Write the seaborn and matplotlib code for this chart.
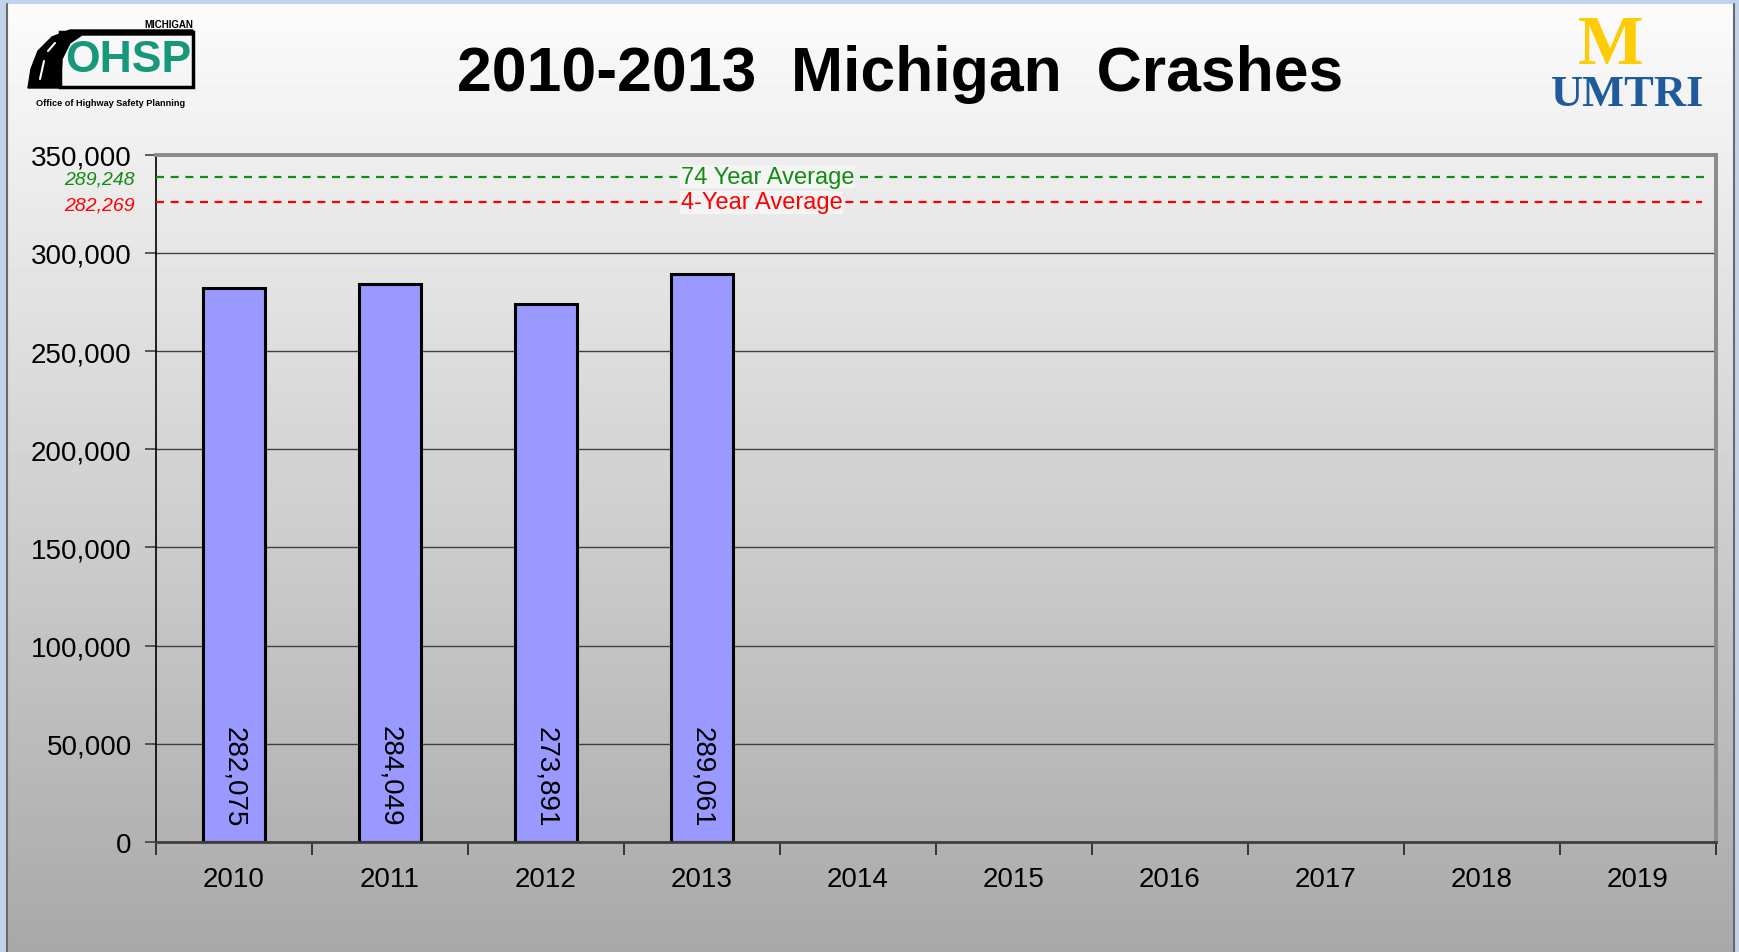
"""
plot.py - 2010-2013 Michigan Crashes bar chart
"""

import numpy as np
import matplotlib
matplotlib.use('Agg')
import matplotlib.pyplot as plt
import matplotlib.patches as mpatches
import seaborn as sns

# ============================================================
# DATA
# ============================================================

all_years = ['2010', '2011', '2012', '2013', '2014', '2015', '2016', '2017', '2018', '2019']
data_years = ['2010', '2011', '2012', '2013']
crashes = [282075, 284049, 273891, 289061]

avg_names = ['74 Year Average', '4-Year Average']
avg_values = [289248, 282269]

y_ticks = [0, 50000, 100000, 150000, 200000, 250000, 300000, 350000]

title = '2010-2013  Michigan  Crashes'

# ============================================================
# FIGURE + BACKGROUND
# ============================================================

sns.set_theme(style='white')
plt.rcParams['font.family'] = ['Liberation Sans', 'DejaVu Sans']
plt.rcParams['text.color'] = 'black'

W, H = 1739, 953
fig = plt.figure(figsize=(W / 100, H / 100), dpi=100)

bg = fig.add_axes([0, 0, 1, 1])
bg.axis('off')
bg.add_patch(mpatches.Rectangle((0, 0), W, H, color='#c2d2ec', zorder=0))
grad = np.linspace(0.985, 0.66, 256).reshape(-1, 1)
bg.imshow(grad, cmap='gray', vmin=0, vmax=1, aspect='auto',
          extent=(7, 1734, H, 5), zorder=1)
bg.plot([7, 7], [5, H], color='#6a6a6a', lw=1.5, zorder=2)
bg.plot([1734, 1734], [5, H], color='#6a6a6a', lw=1.5, zorder=2)
bg.set_xlim(0, W)
bg.set_ylim(H, 0)

# OHSP logo (rough)
road = mpatches.Polygon([(28, 89), (31, 70), (38, 52), (52, 38), (70, 31), (193, 31),
                         (193, 36), (82, 36), (70, 44), (62, 60), (60, 89)],
                        closed=True, color='black', zorder=3)
bg.add_patch(road)
bg.add_patch(mpatches.Rectangle((60, 33), 133, 55, fill=False, ec='black', lw=2.5, zorder=3))
bg.plot([40, 44], [80, 62], color='white', lw=1.5, zorder=4)
bg.plot([48, 55], [52, 44], color='white', lw=1.5, zorder=4)
bg.text(193, 25, 'MICHIGAN', fontsize=7, weight='bold', ha='right', va='center', zorder=4)
bg.text(128, 61, 'OHSP', fontsize=32, weight='bold', color='#17987a',
        ha='center', va='center', zorder=4)
bg.text(111, 103, 'Office of Highway Safety Planning', fontsize=6.6, weight='bold',
        ha='center', va='center', zorder=4)

# UMTRI logo
bg.text(1611, 47, 'M', fontsize=50, weight='bold', color='#ffcb05',
        family='Liberation Serif', ha='center', va='center', zorder=4)
bg.text(1628, 95, 'UMTRI', fontsize=32, weight='bold', color='#1f5a9a',
        family='Liberation Serif', ha='center', va='center', zorder=4)

# title
fig.text(900 / W, 1 - 75 / H, title, fontsize=45, weight='bold', color='black',
         ha='center', va='center')

# ============================================================
# BAR CHART
# ============================================================

left, right, top, bottom = 156, 1716, 155.7, 843
ax = fig.add_axes([left / W, 1 - bottom / H, (right - left) / W, (bottom - top) / H])
ax.set_facecolor('none')

sns.barplot(x=data_years, y=crashes, order=all_years, color='#9999ff',
            saturation=1, edgecolor='black', linewidth=2.2, width=0.4, ax=ax)

ax.set_xlim(-0.5, len(all_years) - 0.5)
ax.set_ylim(0, 350000)
ax.set_yticks(y_ticks)
ax.set_yticklabels([f'{v:,}' for v in y_ticks], fontsize=20, color='black')
ax.tick_params(axis='y', direction='out', length=8, width=1.2, color='#404040', pad=9.5, left=True)
ax.set_xticklabels(all_years, fontsize=20, color='black')
ax.set_xticks(np.arange(-0.5, len(all_years)), minor=True)
ax.tick_params(axis='x', which='major', length=0, pad=17)
ax.tick_params(axis='x', which='minor', direction='out', length=9, width=1.2,
               color='#202020', bottom=True)
ax.set_xlabel('')
ax.set_ylabel('')

ax.yaxis.grid(True, color='#404040', lw=1)
ax.set_axisbelow(True)
ax.spines['left'].set_color('black')
ax.spines['left'].set_linewidth(1.2)
ax.spines['bottom'].set_color('#404040')
ax.spines['bottom'].set_linewidth(2)
for s in ['top', 'right']:
    ax.spines[s].set_visible(True)
    ax.spines[s].set_color('#8a8a8a')
    ax.spines[s].set_linewidth(2.8)

# value labels, rotated, at bar bottom
for i, v in enumerate(crashes):
    ax.annotate(f'{v:,}', xy=(i, 0), xytext=(0, 11.5), textcoords='offset points',
                rotation=270, ha='center', va='bottom', fontsize=20, color='black')

# ============================================================
# AVERAGE LINES (drawn in the top band as in the original)
# ============================================================

avg_pos = [0.968, 0.9307]
avg_colors = ['#128c12', '#ff0000']
avg_ends = [0.993, 0.991]
for name, val, pos, col, end in zip(avg_names, avg_values, avg_pos, avg_colors, avg_ends):
    ax.plot([0, end], [pos, pos], transform=ax.transAxes, color=col, lw=1.6,
            linestyle=(0, (3.6, 3.0)), clip_on=False, zorder=3)
    ax.text(0.3365, pos, name, transform=ax.transAxes, fontsize=17, color=col,
            ha='left', va='center', zorder=4,
            bbox=dict(facecolor='#f4f4f4', edgecolor='none', pad=0.5))
    ax.text(-0.0135, pos - 0.004, f'{val:,}', transform=ax.transAxes, fontsize=14,
            style='italic', color=col, ha='right', va='center')

fig.savefig('out.png', dpi=100)
print('saved out.png')
